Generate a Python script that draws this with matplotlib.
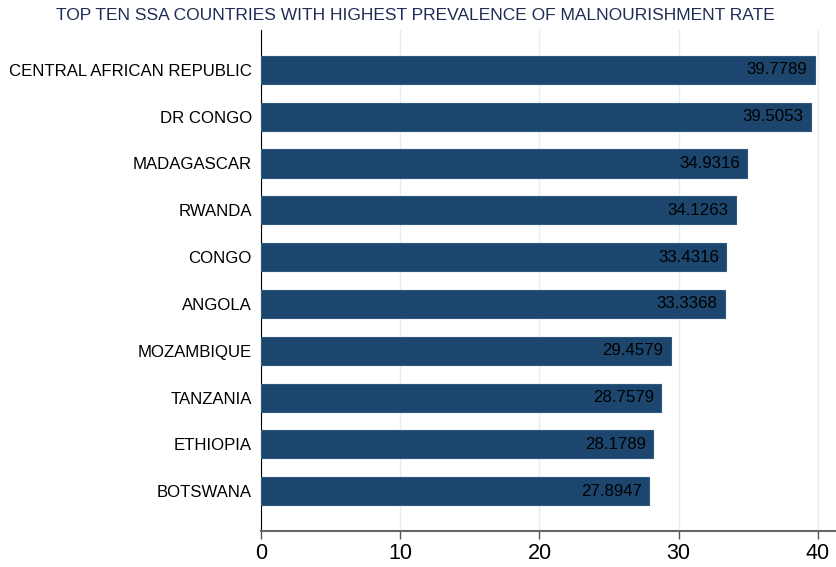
import matplotlib.pyplot as plt

countries = ['CENTRAL AFRICAN REPUBLIC', 'DR CONGO', 'MADAGASCAR', 'RWANDA', 'CONGO',
             'ANGOLA', 'MOZAMBIQUE', 'TANZANIA', 'ETHIOPIA', 'BOTSWANA']
rates = [39.7789, 39.5053, 34.9316, 34.1263, 33.4316,
         33.3368, 29.4579, 28.7579, 28.1789, 27.8947]
xticks = [0, 10, 20, 30, 40]

plt.rcParams['font.family'] = ['Liberation Sans', 'DejaVu Sans']

fig = plt.figure(figsize=(8.36, 5.67), dpi=100)
ax = fig.add_axes([0.3122, 0.0635, 0.6878, 0.8835])

pos = list(range(len(countries)))
ax.barh(pos, rates, height=0.6, color='#1c466d', edgecolor='#2f5a80', linewidth=0.8, zorder=3)
for p, r in zip(pos, rates):
    ax.text(r - 0.55, p, '%.4f' % r, ha='right', va='center', fontsize=12.2, color='black', zorder=4)

ax.set_yticks(pos)
ax.set_yticklabels(countries, fontsize=12.1)
ax.set_ylim(len(countries) - 1 + 0.85, -0.85)
ax.set_xlim(0, 41.3)
ax.set_xticks(xticks)
ax.set_xticklabels([str(t) for t in xticks], fontsize=15.5)
ax.tick_params(axis='y', length=0, pad=6.5)
ax.tick_params(axis='x', length=6, width=1, color='#555555', pad=3)
ax.grid(axis='x', color='#e6edf1', linewidth=1, zorder=0)

ax.spines['top'].set_visible(False)
ax.spines['right'].set_visible(False)
ax.spines['left'].set_color('black')
ax.spines['bottom'].set_color('#666666')
ax.spines['bottom'].set_linewidth(1.5)

fig.text(0.4964, 0.973, 'TOP TEN SSA COUNTRIES WITH HIGHEST PREVALENCE OF MALNOURISHMENT RATE',
         ha='center', va='center', fontsize=12.5, color='#1f2d55')

fig.savefig('out.png', dpi=100)
